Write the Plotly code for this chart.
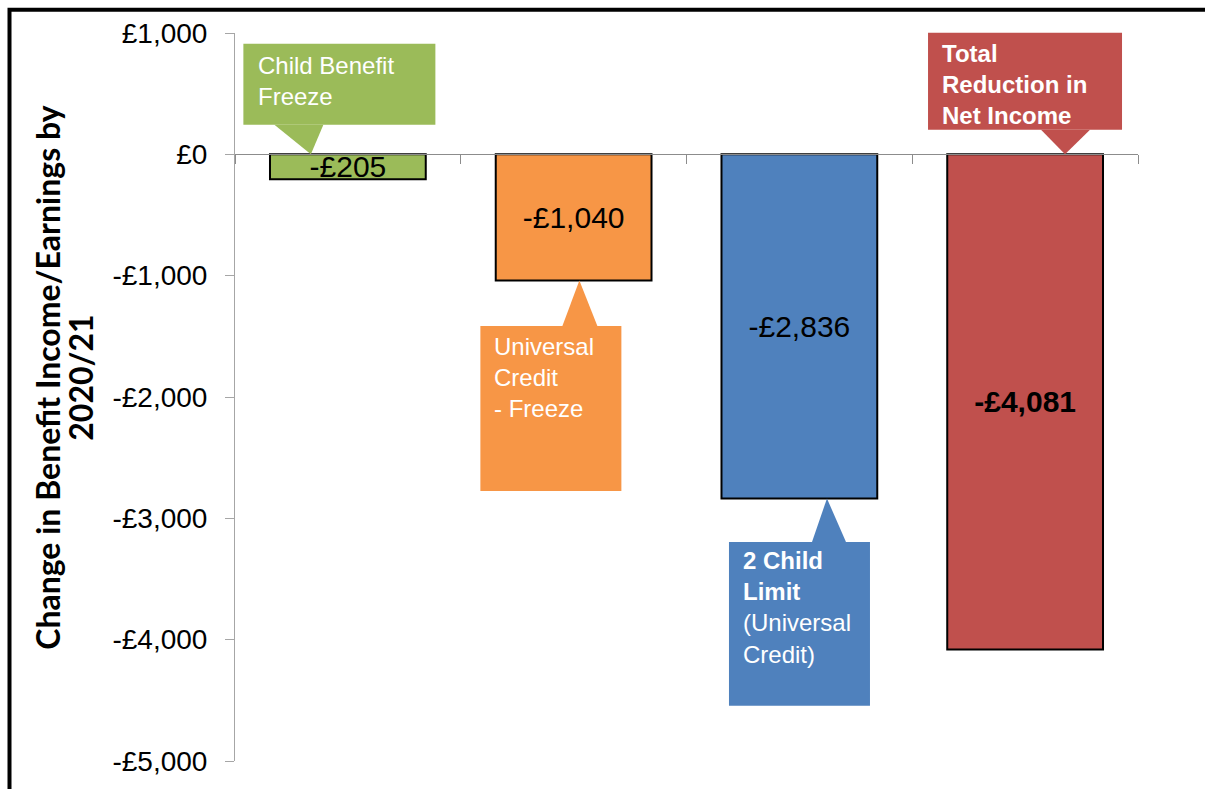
import plotly.graph_objects as go

# ---- data ----
categories = ["Child Benefit Freeze", "Universal Credit - Freeze",
              "2 Child Limit (Universal Credit)", "Total Reduction in Net Income"]
values = [-205, -1040, -2836, -4081]
bar_colors = ["#9BBB59", "#F79646", "#4F81BD", "#C0504D"]
callout_texts = [
    "Child Benefit<br>Freeze",
    "Universal<br>Credit<br>- Freeze",
    "<b>2 Child</b><br><b>Limit</b><br>(Universal<br>Credit)",
    "<b>Total</b><br><b>Reduction in</b><br><b>Net Income</b>",
]
tick_values = [1000, 0, -1000, -2000, -3000, -4000, -5000]
tick_labels = ["£1,000", "£0", "-£1,000", "-£2,000", "-£3,000", "-£4,000", "-£5,000"]
y_title_lines = ["Change in Benefit Income/Earnings by", "2020/21"]

# ---- layout constants ----
W, H = 1205, 789
ML, MR, MT, MB = 235, 67, 33, 19
PW, PH = W - ML - MR, H - MT - MB
YMIN, YMAX = -5000, 1000
NCAT = len(categories)

def fmt(v):
    return ("-" if v < 0 else "") + "£{:,}".format(abs(v))

labels = [fmt(v) for v in values]
labels[-1] = "<b>" + labels[-1] + "</b>"

fig = go.Figure()
fig.add_trace(go.Bar(
    x=categories, y=values,
    marker=dict(color=bar_colors, line=dict(color="black", width=2)),
    text=labels, textposition="inside", insidetextanchor="middle",
    constraintext="none", cliponaxis=False,
    textfont=dict(family="Liberation Sans, Arial", size=30, color="black"),
    hoverinfo="skip",
))

# callout styles: anchor at bar top (0) or bar end (value); offsets in pixels (screen, +down)
callouts = [
    dict(end=False, box=(-104.5, 87.5, -112, -30), ptr=(-73.5, -24.5, -30, -37), txt=(-91.5, -74.5)),
    dict(end=True, box=(-93.25, 47.75, 46, 213), ptr=(-11.25, 23.75, 46, 5.75), txt=(-81.25, 98.5)),
    dict(end=True, box=(-70.4, 70.6, 44, 210), ptr=(12.6, 46.6, 44, 27.6), txt=(-58.4, 110.5)),
    dict(end=False, box=(-97.1, 96.9, -123, -25), ptr=(15.9, 64.9, -25, 39.9), txt=(-85.1, -71)),
]

def anchor(i, v):
    return (i + 0.5) / NCAT, (v - YMIN) / (YMAX - YMIN)

def off(ax, ay, dx, dy):
    return ax + dx / PW, ay - dy / PH

shapes = []
annotations = []
for i, c in enumerate(callouts):
    ax, ay = anchor(i, values[i] if c["end"] else 0)
    bx0, bx1, by0, by1 = c["box"]
    x0, y0 = off(ax, ay, bx0, by0)
    x1, y1 = off(ax, ay, bx1, by1)
    shapes.append(dict(type="rect", xref="paper", yref="paper", x0=x0, x1=x1, y0=y0, y1=y1,
                       fillcolor=bar_colors[i], line=dict(width=0), layer="above"))
    p0, p1, pby, ptx = c["ptr"]
    a = off(ax, ay, p0, pby)
    b = off(ax, ay, p1, pby)
    t = off(ax, ay, ptx, 0)
    path = "M {} {} L {} {} L {} {} Z".format(a[0], a[1], b[0], b[1], t[0], t[1])
    shapes.append(dict(type="path", xref="paper", yref="paper", path=path,
                       fillcolor=bar_colors[i], line=dict(width=0), layer="above"))
    tx, ty = off(ax, ay, c["txt"][0], c["txt"][1])
    annotations.append(dict(xref="paper", yref="paper", x=tx, y=ty, xanchor="left", yanchor="middle",
                            align="left", showarrow=False, text=callout_texts[i],
                            font=dict(family="Liberation Sans, Arial", size=24, color="white")))

# outer frame
shapes.append(dict(type="rect", xref="paper", yref="paper",
                   x0=(9.5 - ML) / PW, x1=(W + 20 - ML) / PW,
                   y0=-(40) / PH, y1=(H - MB - 9.5) / PH,
                   line=dict(color="black", width=4), fillcolor="rgba(0,0,0,0)", layer="above"))

# y-axis title (two lines placed individually)
for line_text, cx in zip(y_title_lines, [48, 81]):
    annotations.append(dict(xref="paper", yref="paper", x=(cx - ML) / PW, y=(H - MB - 382) / PH,
                            xanchor="center", yanchor="middle", textangle=-90, showarrow=False,
                            text="<b>" + line_text + "</b>",
                            font=dict(family="Lato, Carlito, Calibri", size=32, color="black")))

fig.update_layout(
    width=W, height=H, autosize=False,
    margin=dict(l=ML, r=MR, t=MT, b=MB),
    paper_bgcolor="white", plot_bgcolor="white",
    showlegend=False, bargap=0.31,
    shapes=shapes, annotations=annotations,
    xaxis=dict(range=[-0.5, NCAT - 0.5], anchor="free", position=(0 - YMIN) / (YMAX - YMIN),
               showline=True, linecolor="#8C8C8C", linewidth=1,
               ticks="outside", tickson="boundaries", ticklen=9, tickcolor="#8C8C8C",
               showticklabels=False, showgrid=False, zeroline=False),
    yaxis=dict(range=[YMIN, YMAX], tickvals=tick_values, ticktext=tick_labels,
               showline=True, linecolor="#A6A6A6", linewidth=1,
               ticks="outside", ticklen=9, tickcolor="#A6A6A6", ticklabelstandoff=12,
               showgrid=False, zeroline=False,
               tickfont=dict(family="Liberation Sans, Arial", size=28, color="black")),
)

fig.write_html("out.html", config={"displayModeBar": False},
               post_script="document.body.style.margin='0px';")
